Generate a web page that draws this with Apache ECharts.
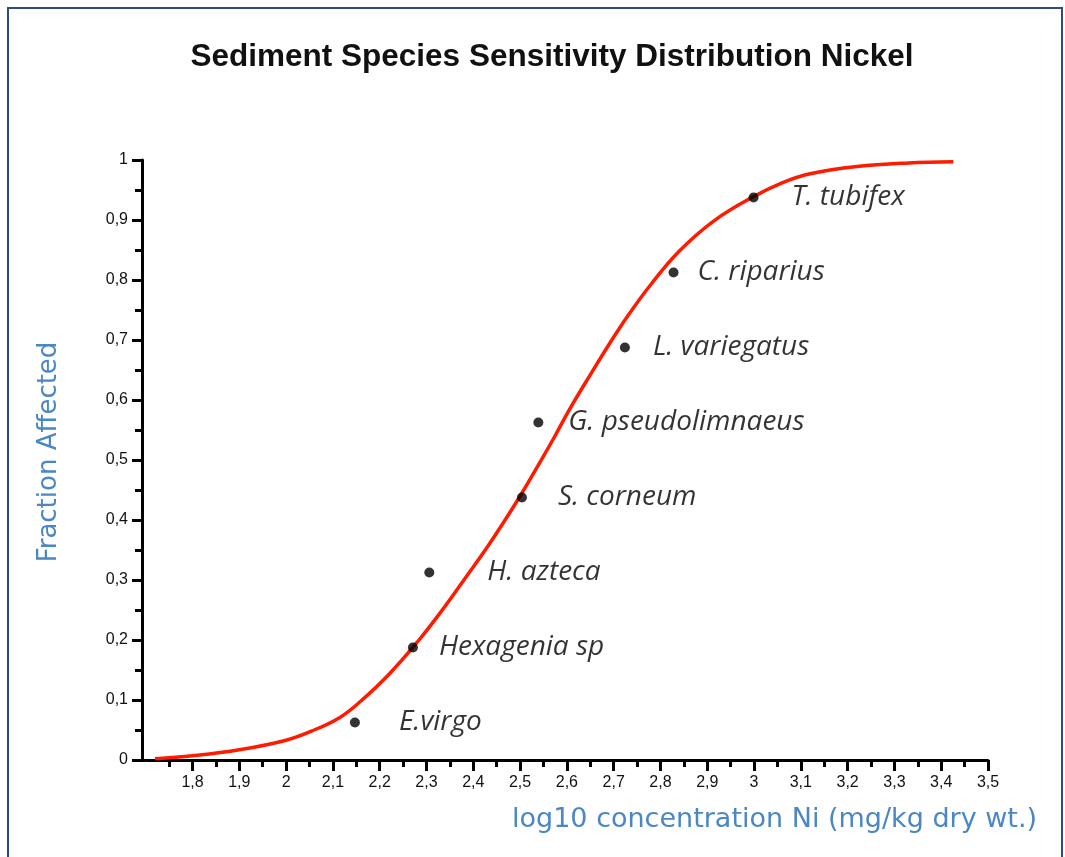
<!DOCTYPE html>
<html>
<head>
<meta charset="utf-8">
<script src="https://cdn.jsdelivr.net/npm/echarts@6/dist/echarts.min.js"></script>
<style>
  html, body { margin: 0; padding: 0; background: #fff; }
  #chart { width: 1065px; height: 857px; }
</style>
</head>
<body>
<div id="chart"></div>
<script>
// fitted distribution curve
const curveX = [1.72, 1.80, 1.90, 2.00, 2.06, 2.115, 2.158, 2.22, 2.284, 2.33, 2.38, 2.43, 2.468, 2.504,
  2.543, 2.571, 2.607, 2.65, 2.688, 2.73, 2.782, 2.84, 2.915, 2.999, 3.06, 3.12, 3.22, 3.33, 3.426];
const curveY = [0.002, 0.007, 0.017, 0.033, 0.050, 0.071, 0.097, 0.143, 0.200, 0.246, 0.300, 0.355, 0.400, 0.445,
  0.497, 0.535, 0.586, 0.642, 0.690, 0.740, 0.795, 0.848, 0.899, 0.939, 0.962, 0.977, 0.989, 0.995, 0.997];

// species points
const speciesNames = ["E.virgo", "Hexagenia sp", "H. azteca", "S. corneum", "G. pseudolimnaeus",
  "L. variegatus", "C. riparius", "T. tubifex"];
const speciesX = [2.147, 2.271, 2.306, 2.504, 2.539, 2.724, 2.828, 2.999];
const speciesY = [0.0625, 0.1875, 0.3125, 0.4375, 0.5625, 0.6875, 0.8125, 0.9375];

const xTickLabels = [1.8, 1.9, 2.0, 2.1, 2.2, 2.3, 2.4, 2.5, 2.6, 2.7, 2.8, 2.9, 3.0, 3.1, 3.2, 3.3, 3.4, 3.5];
const xMinorTicks = [1.75, 1.85, 1.95, 2.05, 2.15, 2.25, 2.35, 2.45, 2.55, 2.65, 2.75, 2.85, 2.95, 3.05,
  3.15, 3.25, 3.35, 3.45];

// label gaps to the right of each dot (layout only)
const labelGap = [39, 21, 53, 31, 25, 23, 19, 33];

const comma = (v) => String(Number(v.toFixed(2))).replace(".", ",");

const chart = echarts.init(document.getElementById("chart"));

const axisColor = "#000";
const nameColor = "#4b87c5";

chart.setOption({
  backgroundColor: "#fff",
  animation: false,
  title: {
    text: "Sediment Species Sensitivity Distribution Nickel",
    left: 547,
    textAlign: "center",
    top: 36,
    textStyle: {
      fontFamily: "Liberation Sans",
      fontWeight: "bold",
      fontSize: 31.5,
      color: "#111",
    },
  },
  graphic: [
    {
      type: "rect",
      shape: { x: 8, y: 8, width: 1054, height: 900 },
      style: { fill: "none", stroke: "#2b4b86", lineWidth: 2 },
      silent: true,
    },
  ],
  grid: {
    left: 142,
    right: 77,
    top: 160,
    bottom: 97,
  },
  xAxis: [
    {
      type: "value",
      min: 1.692,
      max: 3.5,
      position: "bottom",
      name: "log10 concentration Ni (mg/kg dry wt.)",
      nameLocation: "end",
      nameGap: 49,
      nameTextStyle: {
        fontFamily: "DejaVu Sans",
        fontSize: 27,
        color: nameColor,
        align: "right",
        verticalAlign: "top",
        padding: [46, 0, 0, 0],
      },
      splitLine: { show: false },
      axisLine: { show: true, lineStyle: { color: axisColor, width: 3 } },
      axisTick: {
        show: true,
        customValues: xTickLabels,
        length: 11,
        lineStyle: { color: axisColor, width: 3 },
      },
      axisLabel: {
        customValues: xTickLabels,
        formatter: comma,
        margin: 15,
        fontFamily: "Liberation Sans",
        fontSize: 16,
        color: "#111",
      },
    },
    {
      type: "value",
      min: 1.692,
      max: 3.5,
      position: "bottom",
      splitLine: { show: false },
      axisLine: { show: false },
      axisLabel: { show: false },
      axisTick: {
        show: true,
        customValues: xMinorTicks,
        length: 7,
        lineStyle: { color: axisColor, width: 3 },
      },
    },
  ],
  yAxis: {
    type: "value",
    min: 0,
    max: 1,
    interval: 0.1,
    name: "Fraction Affected",
    nameLocation: "middle",
    nameGap: 80,
    nameTextStyle: {
      fontFamily: "DejaVu Sans",
      fontSize: 26,
      color: nameColor,
      padding: [0, 0, 0, 16],
    },
    splitLine: { show: false },
    axisLine: { show: true, lineStyle: { color: axisColor, width: 3 } },
    axisTick: { show: true, length: 10, lineStyle: { color: axisColor, width: 3 } },
    minorTick: { show: true, splitNumber: 2, length: 7, lineStyle: { color: axisColor, width: 3 } },
    axisLabel: {
      formatter: comma,
      margin: 14,
      fontFamily: "Liberation Sans",
      fontSize: 16,
      color: "#111",
    },
  },
  series: [
    {
      type: "line",
      data: curveX.map((x, i) => [x, curveY[i]]),
      smooth: 0.4,
      showSymbol: false,
      lineStyle: { color: "#ff1a00", width: 3.5 },
      z: 2,
    },
    {
      type: "scatter",
      data: speciesNames.map((name, i) => ({
        name,
        value: [speciesX[i], speciesY[i]],
        label: { distance: labelGap[i] },
      })),
      symbolSize: 10,
      itemStyle: { color: "#000" },
      label: {
        show: true,
        position: "right",
        formatter: (p) => p.name,
        fontFamily: "Open Sans",
        fontStyle: "italic",
        fontSize: 28,
        color: "#000",
      },
      z: 3,
    },
  ],
});
</script>
</body>
</html>
